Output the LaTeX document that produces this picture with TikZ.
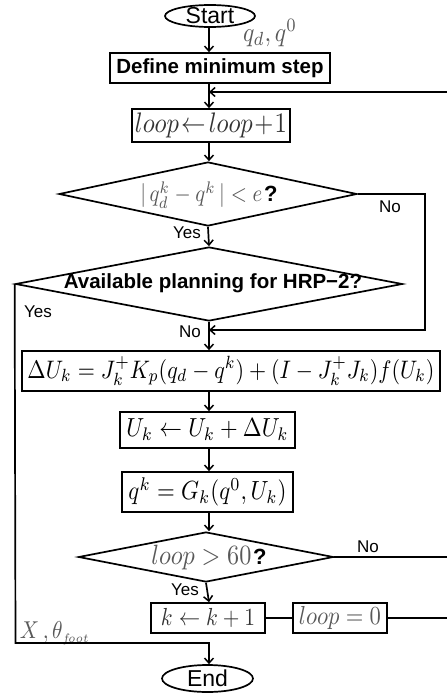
\documentclass[tikz,border=0pt]{standalone}
\usepackage{fontspec}
\setsansfont{Liberation Sans}
\usetikzlibrary{shapes.geometric,arrows.meta}
\definecolor{g}{gray}{0.35}
\newcommand{\mbx}[2]{\resizebox{#1}{!}{\scalebox{1}[1.15]{#2}}}
\tikzset{
  ln/.style={line width=1.7pt},
  arr/.style={line width=1.7pt,-{Straight Barb[length=5pt,width=9pt,line width=1.5pt]}},
  box/.style={draw,line width=1.7pt,rectangle,inner sep=0pt},
  dia/.style={draw,line width=1.7pt,diamond,inner sep=0pt},
  term/.style={draw,line width=1.7pt,ellipse,inner sep=0pt},
  txt/.style={inner sep=0pt},
  bigsans/.style={inner sep=0pt,font=\sffamily\fontsize{23}{25}\selectfont},
  boldsans/.style={font=\sffamily\bfseries\fontsize{20.5}{22}\selectfont},
  lab/.style={inner sep=0pt,font=\sffamily\fontsize{17}{19}\selectfont},
}
\begin{document}
\begin{tikzpicture}[x=1pt,y=-1pt]
\useasboundingbox (0,0) rectangle (447,696);
\coordinate (sp) at (209,0);
% terminals
\node[term,minimum width=90pt,minimum height=22pt] (start) at (210,16) {};
\node[bigsans] (startt) at (start) {Start};
\node[term,minimum width=91pt,minimum height=27pt] (end) at (207.5,678.5) {};
\node[bigsans] (endt) at (end) {End};
% boxes
\node[txt,text=g] (qd) at (270,33) {\mbx{54pt}{$q_d,q^0$}};
\node[box,boldsans,minimum width=220pt,minimum height=30pt] (def) at (220,68) {Define minimum step};
\node[box,minimum width=158pt,minimum height=33pt,text=black!80] (lp) at (211,125.5)
  {\mbx{152pt}{$loop\!\leftarrow\! loop\!+\!1$}};
\node[dia,minimum width=298pt,minimum height=64pt] (d1) at (208,194) {};
\node[txt] (d1t) at (209,195) {\mbx{122pt}{\color{g}$|\,q_d^k-q^k\,|<e$}\,{\sffamily\bfseries\fontsize{22}{24}\selectfont ?}};
\node[dia,minimum width=387pt,minimum height=74pt] (d2) at (209,284) {};
\node[txt,boldsans] (d2t) at (213,283) {Available planning for HRP−2?};
\node[box,minimum width=418pt,minimum height=40pt] (du) at (231,371)
  {\mbx{407pt}{$\Delta U_k=J_k^{+}K_p(q_d-q^k)+(I-J_k^{+}J_k)f(U_k)$}};
\node[box,minimum width=175pt,minimum height=36pt] (ub) at (207.5,430)
  {\mbx{162pt}{$U_k\leftarrow U_k+\Delta U_k$}};
\node[box,minimum width=171pt,minimum height=40pt] (qb) at (207.5,492)
  {\mbx{158pt}{$q^k=G_k(q^0,U_k)$}};
\node[dia,minimum width=255pt,minimum height=50pt] (d3) at (206,557) {};
\node[txt] (d3t) at (209,558) {\mbx{100pt}{\color{g}$loop>60$}\,{\sffamily\bfseries\fontsize{22}{24}\selectfont ?}};
\node[box,minimum width=114pt,minimum height=30pt,text=black!80] (kb) at (208,618)
  {\mbx{94pt}{$k\leftarrow k+1$}};
\node[box,minimum width=94pt,minimum height=30pt,text=g] (lz) at (340,618)
  {\mbx{82pt}{$loop=0$}};
\node[txt,text=g] (xt) at (55,633) {\mbx{70pt}{$X\,,\theta_{\scriptscriptstyle f\!oot}$}};
% labels
\node[lab] (y1) at (187,233) {Yes};
\node[lab] (n1) at (390,207) {No};
\node[lab] (y2) at (38,312) {Yes};
\node[lab] (n2) at (190,332) {No};
\node[lab] (n3) at (368,547) {No};
\node[lab] (y3) at (185,590) {Yes};
% coordinates
\coordinate (m1) at (209,92);
\coordinate (m2) at (209,330);
\coordinate (r1) at (425,194);
\coordinate (r2) at (425,330);
\coordinate (e3) at (447.6,557);
\coordinate (rb) at (447.6,618);
\coordinate (rt) at (447.6,92);
\coordinate (lb) at (15.5,643);
\coordinate (eb) at (209,643);
% connectors
\draw[arr] (sp |- start.south) -- (sp |- def.north);
\draw[arr] (sp |- def.south) -- (sp |- lp.north);
\draw[arr] (sp |- lp.south) -- (sp |- d1.north);
\draw[arr] (d1.south) -- (d2.north);
\draw[arr] (d1.east) -- (r1) -- (r2) -- (m2);
\draw[arr] (d2.south) -- (sp |- du.north);
\draw[arr] (sp |- du.south) -- (sp |- ub.north);
\draw[arr] (sp |- ub.south) -- (sp |- qb.north);
\draw[arr] (sp |- qb.south) -- (sp |- d3.north);
\draw[arr] (d3.south) -- (sp |- kb.north);
\draw[ln] (kb.east) -- (lz.west);
\draw[ln] (d3.east) -- (e3);
\draw[arr] (lz.east) -- (rb) -- (rt) -- (m1);
\draw[arr] (d2.west) -- (lb) -- (eb) -- (sp |- end.north);
\end{tikzpicture}
\end{document}
